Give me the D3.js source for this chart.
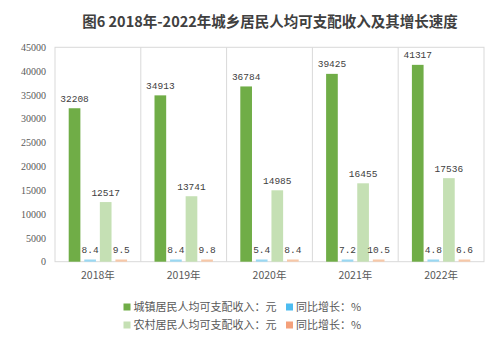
<!DOCTYPE html>
<html><head><meta charset="utf-8">
<script src="https://cdn.jsdelivr.net/npm/d3@7"></script>
<style>body{margin:0;background:#fff}svg{display:block}</style>
</head><body>
<script>
const years = ["2018年","2019年","2020年","2021年","2022年"];
const urbanIncome = [32208, 34913, 36784, 39425, 41317];
const urbanGrowth = [8.4, 8.4, 5.4, 7.2, 4.8];
const ruralIncome = [12517, 13741, 14985, 16455, 17536];
const ruralGrowth = [9.5, 9.8, 8.4, 10.5, 6.6];
const seriesNames = ["城镇居民人均可支配收入：元","同比增长：%","农村居民人均可支配收入：元","同比增长：%"];
const yTicks = [0,5000,10000,15000,20000,25000,30000,35000,40000,45000];
const title = "图6 2018年-2022年城乡居民人均可支配收入及其增长速度";

const W = 500, H = 349;
const colors = ["#70ad47", "#9ad8f2", "#c5e0b4", "#f7c8a8"];
const legendColors = ["#70ad47", "#4dbcf0", "#c5e0b4", "#f4a07a"];
const seriesData = [urbanIncome, urbanGrowth, ruralIncome, ruralGrowth];

const svg = d3.select("body").append("svg").attr("width", W).attr("height", H);

svg.append("text").attr("x", 270).attr("y", 27).attr("text-anchor", "middle")
  .attr("font-family", "'Noto Sans CJK SC', sans-serif").attr("font-weight", "bold")
  .attr("font-size", 14.5).attr("fill", "#404040").text(title);

const x0 = d3.scaleBand().domain(years).range([55, 484]).padding(0);
const x1 = d3.scaleBand().domain(d3.range(4)).range([0, x0.bandwidth()]).paddingInner(0.25).paddingOuter(0.88);
const y = d3.scaleLinear().domain([0, 45000]).range([261.7, 47.3]);

// frame and separators
const g = svg.append("g");
g.append("rect").attr("x", 55).attr("y", y(45000)).attr("width", 484 - 55).attr("height", y(0) - y(45000))
  .attr("fill", "none").attr("stroke", "#d9d9d9").attr("stroke-width", 1);
g.selectAll("line.sep").data(years.slice(1)).join("line")
  .attr("x1", d => x0(d)).attr("x2", d => x0(d)).attr("y1", y(45000)).attr("y2", y(0))
  .attr("stroke", "#d9d9d9").attr("stroke-width", 1);

// y axis
const yAxis = d3.axisLeft(y).tickValues(yTicks).tickFormat(d3.format("d")).tickSize(0).tickPadding(9);
const ya = svg.append("g").attr("transform", "translate(55,0)").call(yAxis);
ya.select(".domain").remove();
ya.selectAll("text").attr("font-family", "'Liberation Serif', serif").attr("font-size", 10).attr("fill", "#595959");

// x axis
const xAxis = d3.axisBottom(x0).tickSize(0).tickPadding(10);
const xa = svg.append("g").attr("transform", `translate(0,${y(0)})`).call(xAxis);
xa.select(".domain").remove();
xa.selectAll("text").attr("font-family", "'Noto Sans CJK SC', sans-serif").attr("font-size", 10.5).attr("fill", "#595959");

// bars
const groups = svg.append("g").selectAll("g").data(years).join("g")
  .attr("transform", d => `translate(${x0(d)},0)`);
groups.each(function(yr, i) {
  const gg = d3.select(this);
  const vals = seriesData.map(s => s[i]);
  gg.selectAll("rect").data(vals).join("rect")
    .attr("x", (d, k) => x1(k)).attr("width", x1.bandwidth())
    .attr("y", d => Math.min(y(d), y(0) - 2.2))
    .attr("height", d => Math.max(y(0) - y(d), 2.2))
    .attr("fill", (d, k) => colors[k]);
  gg.selectAll("text").data(vals).join("text")
    .attr("x", (d, k) => x1(k) + x1.bandwidth() / 2)
    .attr("y", d => Math.min(y(d), y(0) - 2.2) - 6.5)
    .attr("text-anchor", "middle")
    .attr("font-family", "'Liberation Mono', monospace").attr("font-size", 9.5).attr("fill", "#404040")
    .text(d => d >= 100 ? d3.format("d")(d) : d3.format(".1f")(d));
});

// legend
const legendPos = [[123.5, 307], [286, 307], [123.5, 325], [286, 325]];
const lg = svg.append("g").selectAll("g").data(seriesNames).join("g")
  .attr("transform", (d, k) => `translate(${legendPos[k][0]},${legendPos[k][1]})`);
lg.append("rect").attr("x", 0).attr("y", -3.5).attr("width", 7).attr("height", 7).attr("fill", (d, k) => legendColors[k]);
lg.append("text").attr("x", 10).attr("y", 0).attr("dy", "0.36em")
  .attr("font-family", "'Noto Sans CJK SC', sans-serif").attr("font-size", 11).attr("fill", "#595959")
  .text(d => d);
</script>
</body></html>
